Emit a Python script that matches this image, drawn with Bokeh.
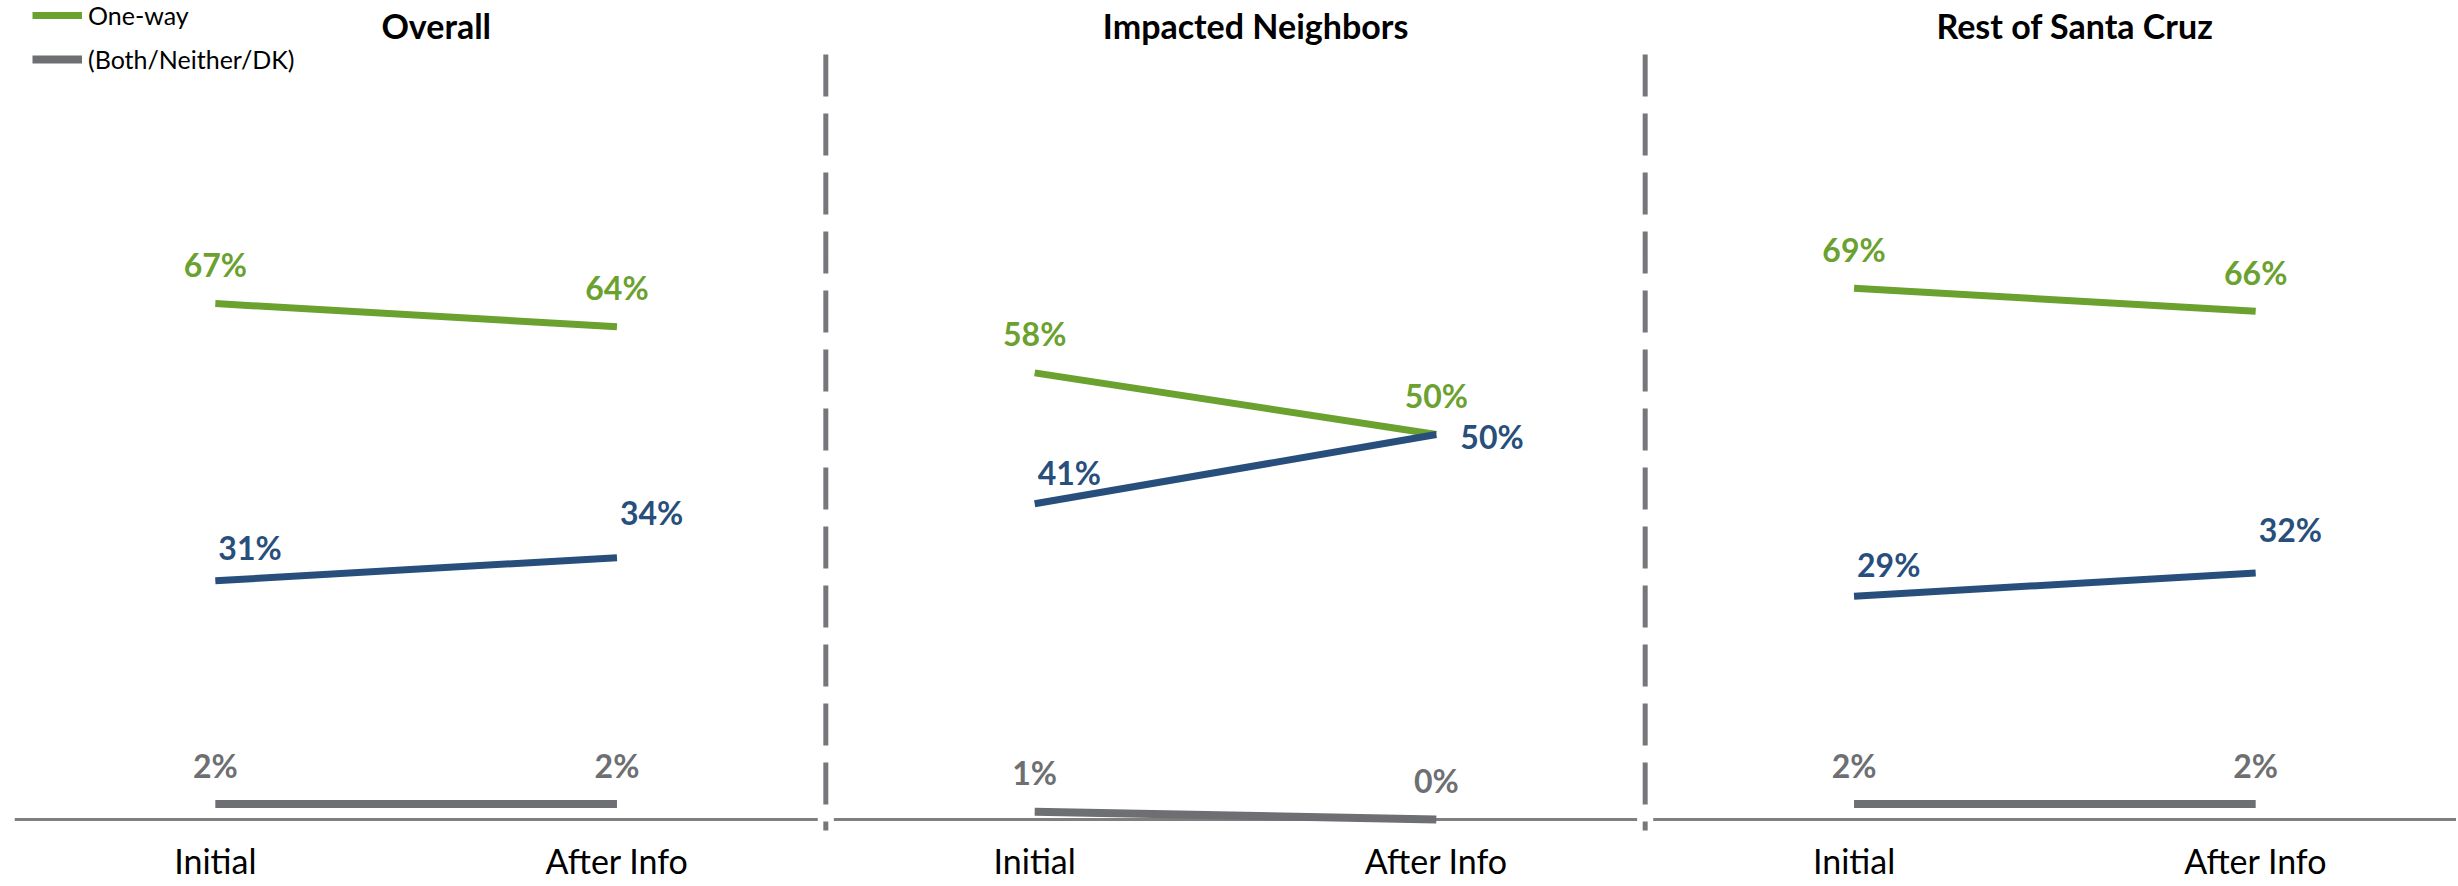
from bokeh.plotting import figure
from bokeh.models import FactorRange, Range1d, ColumnDataSource, Legend, LegendItem
from bokeh.core.properties import value
from bokeh.embed import file_html
from bokeh.resources import INLINE

# ---------------- data ----------------
panels = ["Overall", "Impacted Neighbors", "Rest of Santa Cruz"]
stages = ["Initial", "After Info"]
one_way = [[67, 64], [58, 50], [69, 66]]
blue_series = [[31, 34], [41, 50], [29, 32]]      # its legend entry is cropped off in the source
both_neither_dk = [[2, 2], [1, 0], [2, 2]]
legend_labels = ["One-way", "(Both/Neither/DK)"]

# ---------------- style ----------------
GREEN = "#6BA12F"
BLUE = "#284F7B"
GRAY = "#6E6F73"
DIVIDER = "#77777B"
AXIS = "#7F7F7F"
FONT = "Lato"
GP = 0.04                      # gap between panels (factor units)
PX = 7.7                       # pixels per percentage point
W, H = 2456, 884
BOTTOM_BORDER = 52
FRAME_H = H - BOTTOM_BORDER    # frame spans canvas y 0 .. 832
ZERO_FROM_TOP = 819            # canvas y of the 0 line

# blue label placement (x_offset, y_offset) per panel/stage
blue_offsets = [[(3, -33), (3, -45)], [(3, -31), (24, 2)], [(3, -32), (3, -44)]]

factors = [(pn, st) for pn in panels for st in stages]
x_range = FactorRange(*factors, factor_padding=0, group_padding=GP, range_padding=0)
y_range = Range1d(-(FRAME_H - ZERO_FROM_TOP) / PX, ZERO_FROM_TOP / PX)

p = figure(x_range=x_range, y_range=y_range, width=W, height=H,
           min_border_left=14, min_border_right=0, min_border_top=0,
           min_border_bottom=BOTTOM_BORDER,
           output_backend="svg", toolbar_location=None, y_axis_location=None,
           background_fill_color="white", border_fill_color="white",
           outline_line_color=None)
p.xgrid.grid_line_color = None
p.ygrid.grid_line_color = None

ax = p.xaxis[0]
ax.axis_line_color = None
ax.major_tick_line_color = None
ax.minor_tick_line_color = None
ax.major_tick_out = 0
ax.major_tick_in = 0
ax.major_label_text_font = FONT
ax.major_label_text_font_size = "34px"
ax.major_label_text_color = "black"
ax.major_label_standoff = 7
ax.group_text_font_size = "0px"
ax.group_text_color = None
ax.separator_line_color = None

# baselines per panel
for pn in panels:
    p.segment(x0=[(pn, stages[0], -0.5)], y0=[0], x1=[(pn, stages[-1], 0.5)], y1=[0],
              line_color=AXIS, line_width=3)

# dashed dividers between panels
for i in range(len(panels) - 1):
    xd = (panels[i], stages[-1], 0.5 + GP / 2)
    p.segment(x0=[xd], y0=[(ZERO_FROM_TOP - 54) / PX], x1=[xd], y1=[(ZERO_FROM_TOP - 830) / PX],
              line_color=DIVIDER, line_width=5, line_dash="42 17")

green_r, gray_r = [], []
for i, pn in enumerate(panels):
    xs = [(pn, st) for st in stages]
    green_r.append(p.line(xs, one_way[i], line_color=GREEN, line_width=7))
    p.line(xs, blue_series[i], line_color=BLUE, line_width=7)
    gray_r.append(p.line(xs, both_neither_dk[i], line_color=GRAY, line_width=8))

def labels(series, color, align, xo, yo):
    xs, ys, ts, xoff, yoff = [], [], [], [], []
    for i, pn in enumerate(panels):
        for j, st in enumerate(stages):
            xs.append((pn, st))
            ys.append(series[i][j])
            ts.append(f"{series[i][j]}%")
            xoff.append(xo(i, j))
            yoff.append(yo(i, j))
    src = ColumnDataSource(dict(x=xs, y=ys, t=ts, xo=xoff, yo=yoff))
    p.text(x="x", y="y", text="t", source=src, x_offset="xo", y_offset="yo",
           text_align=align, text_baseline="middle", text_color=color,
           text_font=value(FONT), text_font_style="bold", text_font_size="32px")

labels(one_way, GREEN, "center", lambda i, j: 0, lambda i, j: -39)
labels(both_neither_dk, GRAY, "center", lambda i, j: 0, lambda i, j: -39)
labels(blue_series, BLUE, "left", lambda i, j: blue_offsets[i][j][0], lambda i, j: blue_offsets[i][j][1])

# panel titles
p.text(x=[(pn, stages[-1], -0.45) for pn in panels], y=[y_range.end] * len(panels), text=panels,
       y_offset=25, text_align="center", text_baseline="middle", text_color="black",
       text_font=value(FONT), text_font_style="bold", text_font_size="34px")

legend = Legend(items=[LegendItem(label=legend_labels[0], renderers=[green_r[0]]),
                       LegendItem(label=legend_labels[1], renderers=[gray_r[0]])],
                location=(18, FRAME_H - 74),
                glyph_width=50, glyph_height=30, label_height=30, label_standoff=6, spacing=14,
                padding=0, margin=0, border_line_color=None, background_fill_alpha=0,
                label_text_font=FONT, label_text_font_size="25px", label_text_color="black")
p.add_layout(legend)

open("out.html", "w").write(file_html(p, INLINE, "chart"))
